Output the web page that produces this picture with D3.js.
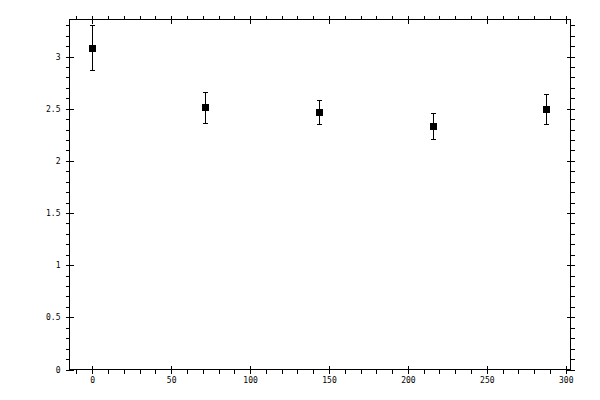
<!DOCTYPE html>
<html>
<head>
<meta charset="utf-8">
<script src="https://cdn.jsdelivr.net/npm/d3@7"></script>
<style>
  html, body { margin: 0; padding: 0; background: #fff; }
  svg text { font-family: "DejaVu Sans Mono", monospace; font-size: 8px; fill: #000; }
</style>
</head>
<body>
<div id="chart"></div>
<script>
// data
var xValues   = [0, 72, 144, 216, 288];
var yValues   = [3.08, 2.51, 2.463, 2.329, 2.492];
var yErrors   = [0.217, 0.15, 0.116, 0.123, 0.142];
var xMajor    = [0, 50, 100, 150, 200, 250, 300];
var xMinor    = [-10, 10, 20, 30, 40, 60, 70, 80, 90, 110, 120, 130, 140, 160, 170, 180, 190,
                 210, 220, 230, 240, 260, 270, 280, 290];
var yMajor    = [0, 0.5, 1, 1.5, 2, 2.5, 3];
var yMinor    = [0.1, 0.2, 0.3, 0.4, 0.6, 0.7, 0.8, 0.9, 1.1, 1.2, 1.3, 1.4, 1.6, 1.7, 1.8, 1.9,
                 2.1, 2.2, 2.3, 2.4, 2.6, 2.7, 2.8, 2.9, 3.1, 3.2, 3.3];

//note: "top" is taken by window.top, so the plot edges get their own names
var width = 600, height = 400
  , plotLeft = 69.5, plotRight = 570.5, plotTop = 19.5, plotBottom = 369.5;

var svg = d3.select('#chart').append('svg')
  .attr('width', width)
  .attr('height', height)
  .attr('shape-rendering', 'crispEdges');

var x = d3.scaleLinear().domain([-14.4, 303]).range([plotLeft, plotRight]);
var y = d3.scaleLinear().domain([0, 3.355]).range([plotBottom, plotTop]);

//frame
svg.append('rect')
  .attr('x', plotLeft).attr('y', plotTop)
  .attr('width', plotRight - plotLeft).attr('height', plotBottom - plotTop)
  .attr('fill', 'none').attr('stroke', '#000').attr('stroke-width', 1);

//helper: one axis, no domain path, black ticks
function put(axis, tx, ty, labels) {
  var g = svg.append('g')
    .attr('transform', 'translate(' + tx + ',' + ty + ')')
    .call(axis);
  g.select('.domain').remove();
  g.selectAll('line').attr('stroke', '#000');
  if(!labels) g.selectAll('text').remove();
  else g.attr('font-family', null).attr('font-size', null);
  return g;
}
var fmt = function(d) { return String(d); };

//bottom axis: labels, majors cross the line, minors point out
put(d3.axisBottom(x).tickValues(xMajor).tickSize(4).tickPadding(4).tickFormat(fmt), 0, plotBottom, true);
put(d3.axisTop(x).tickValues(xMajor).tickSize(4).tickFormat(''), 0, plotBottom, false);
put(d3.axisBottom(x).tickValues(xMinor).tickSize(4).tickFormat(''), 0, plotBottom, false);

//top axis
put(d3.axisTop(x).tickValues(xMajor).tickSize(4).tickFormat(''), 0, plotTop, false);
put(d3.axisBottom(x).tickValues(xMajor).tickSize(4).tickFormat(''), 0, plotTop, false);
put(d3.axisTop(x).tickValues(xMinor).tickSize(4).tickFormat(''), 0, plotTop, false);

//left axis
put(d3.axisLeft(y).tickValues(yMajor).tickSize(4).tickPadding(5).tickFormat(fmt), plotLeft, 0, true);
put(d3.axisRight(y).tickValues(yMajor).tickSize(4).tickFormat(''), plotLeft, 0, false);
put(d3.axisLeft(y).tickValues(yMinor).tickSize(4).tickFormat(''), plotLeft, 0, false);

//right axis
put(d3.axisRight(y).tickValues(yMajor).tickSize(4).tickFormat(''), plotRight, 0, false);
put(d3.axisLeft(y).tickValues(yMajor).tickSize(4).tickFormat(''), plotRight, 0, false);
put(d3.axisRight(y).tickValues(yMinor).tickSize(4).tickFormat(''), plotRight, 0, false);

//error bars + square markers
var points = xValues.map(function(v, i) {
  return { x: v, y: yValues[i], e: yErrors[i] };
});

var bars = svg.append('g').attr('stroke', '#000').attr('stroke-width', 1)
  .selectAll('g').data(points).enter().append('g');

bars.append('line')
  .attr('x1', function(d) { return x(d.x); })
  .attr('x2', function(d) { return x(d.x); })
  .attr('y1', function(d) { return y(d.y + d.e); })
  .attr('y2', function(d) { return y(d.y - d.e); });
bars.append('line')
  .attr('x1', function(d) { return x(d.x) - 2.5; })
  .attr('x2', function(d) { return x(d.x) + 2.5; })
  .attr('y1', function(d) { return y(d.y + d.e); })
  .attr('y2', function(d) { return y(d.y + d.e); });
bars.append('line')
  .attr('x1', function(d) { return x(d.x) - 2.5; })
  .attr('x2', function(d) { return x(d.x) + 2.5; })
  .attr('y1', function(d) { return y(d.y - d.e); })
  .attr('y2', function(d) { return y(d.y - d.e); });

svg.append('g').selectAll('rect').data(points).enter().append('rect')
  .attr('x', function(d) { return x(d.x) - 3.5; })
  .attr('y', function(d) { return y(d.y) - 3.5; })
  .attr('width', 7).attr('height', 7)
  .attr('fill', '#000');
</script>
</body>
</html>
